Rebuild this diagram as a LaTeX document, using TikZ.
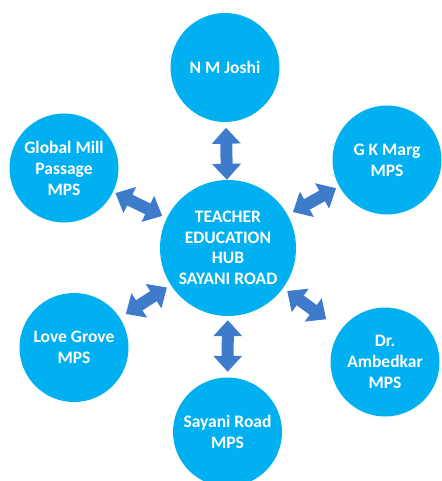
\documentclass[tikz,border=0pt]{standalone}
\usepackage{fontspec}
\setmainfont{Carlito}
\usetikzlibrary{arrows.meta, positioning}

\definecolor{sky}{HTML}{00B0F0}
\definecolor{arrowblue}{HTML}{3E7CCB}

\begin{document}
\begin{tikzpicture}
    [
        x=1pt, y=-1pt,
        hub/.style={circle, fill=sky, text=white, align=center, inner sep=0pt,
            minimum size=136pt, font=\fontsize{17.5}{20.5}\selectfont\bfseries},
        site/.style={circle, fill=sky, text=white, align=center, inner sep=0pt,
            minimum size=109pt, font=\fontsize{17.5}{21}\selectfont\bfseries}
    ]
    \tikzstyle{link} = [draw, color=arrowblue, line width=12pt,
        {Triangle[length=16pt,width=28pt]}-{Triangle[length=16pt,width=28pt]}]

    \useasboundingbox (0,0) rectangle (441,481);

    \node[hub] (hub) at (228,248) {TEACHER\\EDUCATION\\HUB\\SAYANI ROAD};

    \node[site] (joshi)  at (225,67.5)  {N M Joshi};
    \node[site] (global) at (64,168)    {Global Mill\\Passage\\MPS};
    \node[site] (gk)     at (387,160)   {G K Marg\\MPS};
    \node[site] (love)   at (74,347.5)  {Love Grove\\MPS};
    \node[site] (amb)    at (385,362)   {Dr.\\Ambedkar\\MPS};
    \node[site] (sayani) at (227.5,432) {Sayani Road\\MPS};

    \path[link] (hub) edge[shorten <=0pt, shorten >=5.5pt] (joshi);
    \path[link] (hub) edge[shorten <=5pt, shorten >=2.5pt] (global);
    \path[link] (hub) edge[shorten <=6pt, shorten >=3.5pt] (gk);
    \path[link] (hub) edge[shorten <=4.5pt, shorten >=7pt] (love);
    \path[link] (hub) edge[shorten <=5pt, shorten >=18pt] (amb);
    \path[link] (hub) edge[shorten <=4pt, shorten >=5.5pt] (sayani);

\end{tikzpicture}
\end{document}
